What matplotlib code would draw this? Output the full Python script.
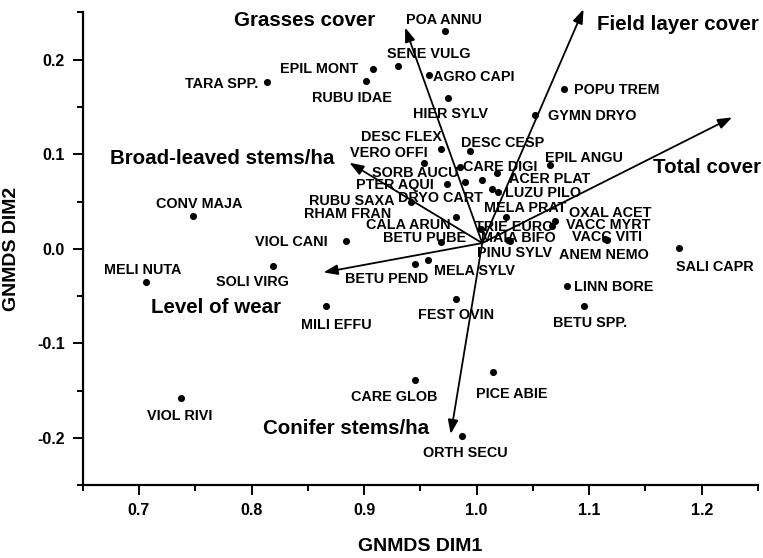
import matplotlib
matplotlib.use("Agg")
import matplotlib.pyplot as plt
from matplotlib.ticker import MultipleLocator, FormatStrFormatter

plt.rcParams['font.family'] = ['Liberation Sans', 'DejaVu Sans']
plt.rcParams['font.weight'] = 'bold'

# species scores (GNMDS dim1, dim2)
species = ['POA ANNU', 'SENE VULG', 'AGRO CAPI', 'EPIL MONT', 'RUBU IDAE', 'TARA SPP.',
           'HIER SYLV', 'POPU TREM', 'GYMN DRYO', 'DESC FLEX', 'DESC CESP', 'VERO OFFI',
           'CARE DIGI', 'EPIL ANGU', 'ACER PLAT', 'SORB AUCU', 'PTER AQUI', 'DRYO CART',
           'LUZU PILO', 'RHAM FRAN', 'RUBU SAXA', 'CALA ARUN', 'MELA PRAT', 'TRIE EURO',
           'MAIA BIFO', 'PINU SYLV', 'BETU PUBE', 'OXAL ACET', 'VACC MYRT', 'VACC VITI',
           'ANEM NEMO', 'VIOL CANI', 'CONV MAJA', 'MELI NUTA', 'SOLI VIRG', 'SALI CAPR',
           'BETU PEND', 'MELA SYLV', 'LINN BORE', 'MILI EFFU', 'FEST OVIN', 'BETU SPP.',
           'CARE GLOB', 'PICE ABIE', 'VIOL RIVI', 'ORTH SECU']
dim1 = [0.972, 0.930, 0.958, 0.908, 0.902, 0.814,
        0.975, 1.078, 1.052, 0.968, 0.994, 0.953,
        0.985, 1.065, 1.018, 0.990, 0.974, 1.005,
        1.019, 1.014, 0.942, 0.982, 1.026, 1.004,
        1.028, 1.030, 0.968, 1.070, 1.067, 1.114,
        1.116, 0.884, 0.748, 0.706, 0.819, 1.180,
        0.945, 0.957, 1.080, 0.866, 0.982, 1.095,
        0.945, 1.015, 0.737, 0.987]
dim2 = [0.230, 0.193, 0.184, 0.190, 0.178, 0.176,
        0.159, 0.169, 0.142, 0.106, 0.103, 0.091,
        0.087, 0.089, 0.080, 0.071, 0.069, 0.073,
        0.060, 0.063, 0.049, 0.034, 0.034, 0.021,
        0.009, 0.008, 0.007, 0.029, 0.024, 0.010,
        0.009, 0.008, 0.035, -0.035, -0.018, 0.001,
        -0.016, -0.012, -0.039, -0.061, -0.053, -0.061,
        -0.139, -0.130, -0.158, -0.198]

# environmental vectors
origin = (1.005, 0.006)
vectors = ['Grasses cover', 'Field layer cover', 'Total cover',
           'Broad-leaved stems/ha', 'Level of wear', 'Conifer stems/ha']
vec_x = [0.9365, 1.095, 1.227, 0.887, 0.864, 0.977]
vec_y = [0.234, 0.2534, 0.139, 0.091, -0.025, -0.196]

# label placement: offset of label centre from point, in pixels (dx, up)
label_off = {
    'POA ANNU': (-1, 12.5), 'SENE VULG': (31, 14), 'AGRO CAPI': (44.7, -1),
    'EPIL MONT': (-53.7, 1), 'RUBU IDAE': (-14, -16.5), 'TARA SPP.': (-45.6, 0),
    'HIER SYLV': (2, -14.5), 'POPU TREM': (52, 0), 'GYMN DRYO': (56.7, 0),
    'DESC FLEX': (-39.3, 12.8), 'DESC CESP': (32.7, 10), 'VERO OFFI': (-34.5, 11),
    'CARE DIGI': (40.8, 0.4), 'EPIL ANGU': (33.7, 7.5), 'ACER PLAT': (53, -4.2),
    'SORB AUCU': (-50.3, 9.5), 'PTER AQUI': (-52.5, 0), 'DRYO CART': (-42, -17.5),
    'LUZU PILO': (45, 0), 'RHAM FRAN': (-144.4, -23.2), 'RUBU SAXA': (-59.2, 2.5),
    'CALA ARUN': (-48.5, -7.5), 'MELA PRAT': (19.8, 10), 'TRIE EURO': (32.6, 3.5),
    'MAIA BIFO': (9.8, 3.8), 'PINU SYLV': (4.2, -10.5), 'BETU PUBE': (-15.8, 5.6),
    'OXAL ACET': (54.5, 9.2), 'VACC MYRT': (56.1, 2.5), 'VACC VITI': (1.7, 3.5),
    'ANEM NEMO': (-2.8, -13.2), 'VIOL CANI': (-54.5, 0), 'CONV MAJA': (6.5, 13),
    'MELI NUTA': (-3, 12.7), 'SOLI VIRG': (-20.6, -15), 'SALI CAPR': (36, -17.5),
    'BETU PEND': (-28.3, -13.5), 'MELA SYLV': (45.9, -9.3), 'LINN BORE': (46.6, 0),
    'MILI EFFU': (10.8, -17.5), 'FEST OVIN': (0, -15), 'BETU SPP.': (6.3, -15.2),
    'CARE GLOB': (-20.5, -16), 'PICE ABIE': (18.7, -21.5), 'VIOL RIVI': (-0.6, -17),
    'ORTH SECU': (3.6, -16),
}
vec_off = {
    'Grasses cover': (-101, 8.7), 'Field layer cover': (94.2, -13.1),
    'Total cover': (-25, -48.5), 'Broad-leaved stems/ha': (-127.6, 6.3),
    'Level of wear': (-107.3, -33.2), 'Conifer stems/ha': (-104.5, 7),
}

fig = plt.figure(figsize=(7.63, 5.58), dpi=100)
ax = fig.add_axes([0.1084, 0.1308, 0.885, 0.8468])

ax.scatter(dim1, dim2, s=26, color='black', zorder=3, linewidths=0)

for name in species:
    i = species.index(name)
    dx, dy = label_off[name]
    ax.annotate(name, xy=(dim1[i], dim2[i]), xytext=(dx, dy - 5.2),
                textcoords='offset pixels', ha='center', va='baseline',
                fontsize=10.4, fontweight='bold', annotation_clip=False)

for i, name in enumerate(vectors):
    ax.annotate('', xy=(vec_x[i], vec_y[i]), xytext=origin,
                arrowprops=dict(arrowstyle='-|>,head_length=0.6,head_width=0.22',
                                mutation_scale=14, lw=1.3, color='black',
                                shrinkA=0, shrinkB=0),
                annotation_clip=False, zorder=2)
    dx, dy = vec_off[name]
    ax.annotate(name, xy=(vec_x[i], vec_y[i]), xytext=(dx, dy - 7.4),
                textcoords='offset pixels', ha='center', va='baseline',
                fontsize=14.8, fontweight='bold', annotation_clip=False)

ax.set_xlim(0.65, 1.25)
ax.set_ylim(-0.25, 0.25)
ax.xaxis.set_major_locator(MultipleLocator(0.1))
ax.xaxis.set_minor_locator(MultipleLocator(0.05))
ax.yaxis.set_major_locator(MultipleLocator(0.1))
ax.yaxis.set_minor_locator(MultipleLocator(0.05))
ax.xaxis.set_major_formatter(FormatStrFormatter('%.1f'))
ax.yaxis.set_major_formatter(FormatStrFormatter('%.1f'))

for s in ['top', 'right']:
    ax.spines[s].set_visible(False)
for s in ['left', 'bottom']:
    ax.spines[s].set_linewidth(1.6)

ax.tick_params(which='major', direction='out', length=7, width=1.4,
               labelsize=11.5, pad=6)
ax.tick_params(which='minor', direction='out', length=4, width=1.4)
for lab in ax.get_xticklabels() + ax.get_yticklabels():
    lab.set_fontweight('bold')

ax.set_xlabel('GNMDS DIM1', fontsize=14, fontweight='bold', labelpad=14)
ax.set_ylabel('GNMDS DIM2', fontsize=14, fontweight='bold', labelpad=12)

fig.savefig('out.png', dpi=100)
